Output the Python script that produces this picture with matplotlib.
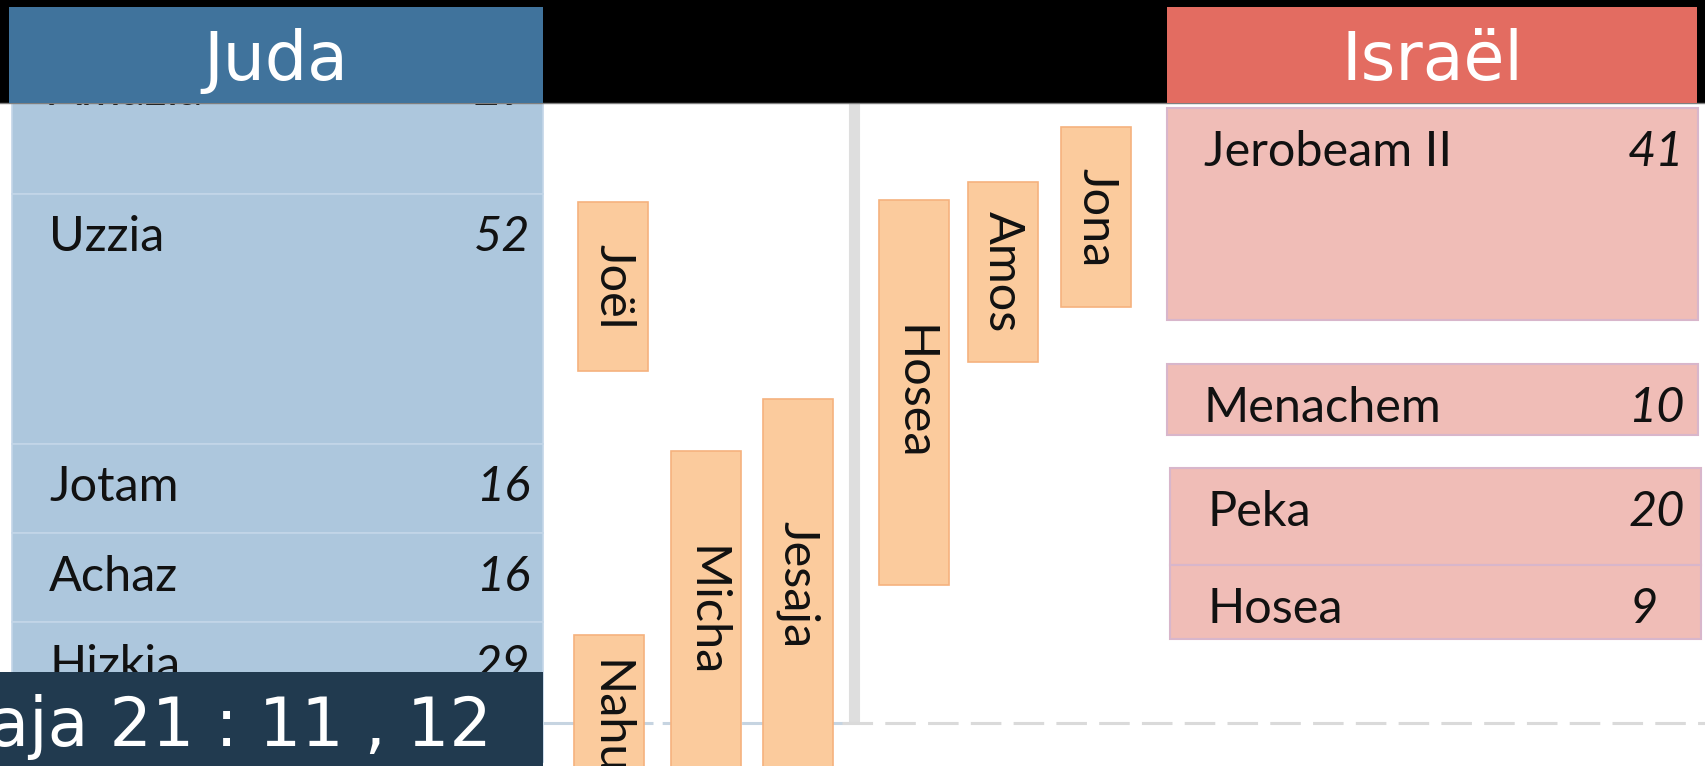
import matplotlib.pyplot as plt
from matplotlib.patches import Rectangle
from matplotlib.transforms import blended_transform_factory

# kings of Juda: name, years of reign (label), start / end on the timeline (BC)
juda_names = ['Amazia', 'Uzzia', 'Jotam', 'Achaz', 'Hizkia']
juda_years = ['29', '52', '16', '16', '29']
juda_start = [821.5, 791, 739, 720.4, 701.9]
juda_end = [791, 739, 720.4, 701.9, 672.9]

# kings of Israel
israel_names = ['Jerobeam II', 'Menachem', 'Peka', 'Hosea']
israel_years = ['41', '10', '20', '9']
israel_start = [808.8, 755.6, 733.9, 713.8]
israel_end = [764.7, 740.8, 713.8, 698.4]

# prophets
prophets = ['Joël', 'Nahum', 'Micha', 'Jesaja', 'Hosea', 'Amos', 'Jona']
prophet_start = [789.3, 699.2, 737.5, 748.3, 789.7, 793.4, 804.8]
prophet_end = [754.1, 656.4, 670.5, 671.0, 709.6, 756.0, 767.4]

verse = 'Jesaja 21 : 11 , 12'

# layout (pixels)
W, H = 1705, 766
px_per_year = 4.81
y_top = 831.25
prophet_x = [578, 574, 671, 763, 879, 968, 1061]
prophet_w = 70
israel_x = [1167, 1167, 1170, 1170]
israel_val_x = [1684, 1685, 1685, 1658]

blue_dark = '#40739c'
blue_light = '#adc7dd'
red_dark = '#e36c61'
red_light = '#f0bdb7'
orange = '#fbcb9d'
navy = '#213a4f'

body_font = 'Lato'
fs = 35

fig = plt.figure(figsize=(W / 100, H / 100), dpi=100)
ax = fig.add_axes([0, 0, 1, 1])
ax.set_xlim(0, W)
ax.set_ylim(y_top - H / px_per_year, y_top)
ax.axis('off')

# Juda column
for name, yrs, s, e in zip(juda_names, juda_years, juda_start, juda_end):
    ax.add_patch(Rectangle((12, e), 531, s - e, facecolor=blue_light,
                           edgecolor='#c3d6e8', lw=1.2, zorder=2))
    ax.text(49, s - 12, name, fontsize=fs, family=body_font,
            color='#111111', va='baseline', ha='left', zorder=3)
    ax.text(530, s - 12, yrs, fontsize=fs, family=body_font, style='italic',
            color='#111111', va='baseline', ha='right', zorder=3)

# Israel column
for name, yrs, s, e, x, vx in zip(israel_names, israel_years, israel_start,
                                  israel_end, israel_x, israel_val_x):
    ax.add_patch(Rectangle((x, e), 531, s - e, facecolor=red_light,
                           edgecolor='#d8b6cb', lw=1.5, zorder=2))
    ax.text(x + 37, s - 12, name, fontsize=fs, family=body_font,
            color='#111111', va='baseline', ha='left', zorder=3)
    ax.text(vx, s - 12, yrs, fontsize=fs, family=body_font, style='italic',
            color='#111111', va='baseline', ha='right', zorder=3)

# timeline helpers: vertical divider and dashed base line
ax.plot([853.5, 853.5], [810, 681.1], color='#dedede', lw=8,
        solid_capstyle='butt', zorder=1)
ax.plot([543, 850], [680.9, 680.9], color='#c6d4e1', lw=2.2,
        linestyle=(0, (10, 3)), zorder=1)
ax.plot([842, W], [680.9, 680.9], color='#dadada', lw=2.2,
        linestyle=(0, (10, 4)), zorder=1)

# prophets
for name, x, s, e in zip(prophets, prophet_x, prophet_start, prophet_end):
    ax.add_patch(Rectangle((x, e), prophet_w, s - e, facecolor=orange,
                           edgecolor='#f5b27e', lw=1.2, zorder=4))
    ax.text(x + prophet_w / 2, (s + e) / 2, name, rotation=270,
            fontsize=fs, family=body_font, color='#111111',
            ha='center', va='center', zorder=5, clip_on=True)

# header band and bottom caption (pixel positions)
tr = blended_transform_factory(ax.transData, ax.transAxes)
fy = lambda px: 1 - px / H

ax.add_patch(Rectangle((0, fy(103)), W, 103 / H, transform=tr,
                       facecolor='black', edgecolor='none', zorder=10))
ax.plot([0, W], [fy(103), fy(103)], transform=tr, color='#7f7f7f', lw=1, zorder=10)
ax.add_patch(Rectangle((9, fy(103)), 534, 96 / H, transform=tr,
                       facecolor=blue_dark, edgecolor='none', zorder=11))
ax.add_patch(Rectangle((1167, fy(103)), 530, 96 / H, transform=tr,
                       facecolor=red_dark, edgecolor='none', zorder=11))
ax.text(276, fy(80), 'Juda', transform=tr, fontsize=48, color='white',
        family='DejaVu Sans', ha='center', va='baseline', zorder=12)
ax.text(1432, fy(80), 'Israël', transform=tr, fontsize=48, color='white',
        family='DejaVu Sans', ha='center', va='baseline', zorder=12)

ax.add_patch(Rectangle((0, 0), 543, fy(672), transform=tr,
                       facecolor=navy, edgecolor='none', zorder=10))
ax.text(492, fy(746), verse, transform=tr, fontsize=48, color='white',
        family='DejaVu Sans', ha='right', va='baseline', zorder=12)

fig.savefig('out.png', dpi=100)
